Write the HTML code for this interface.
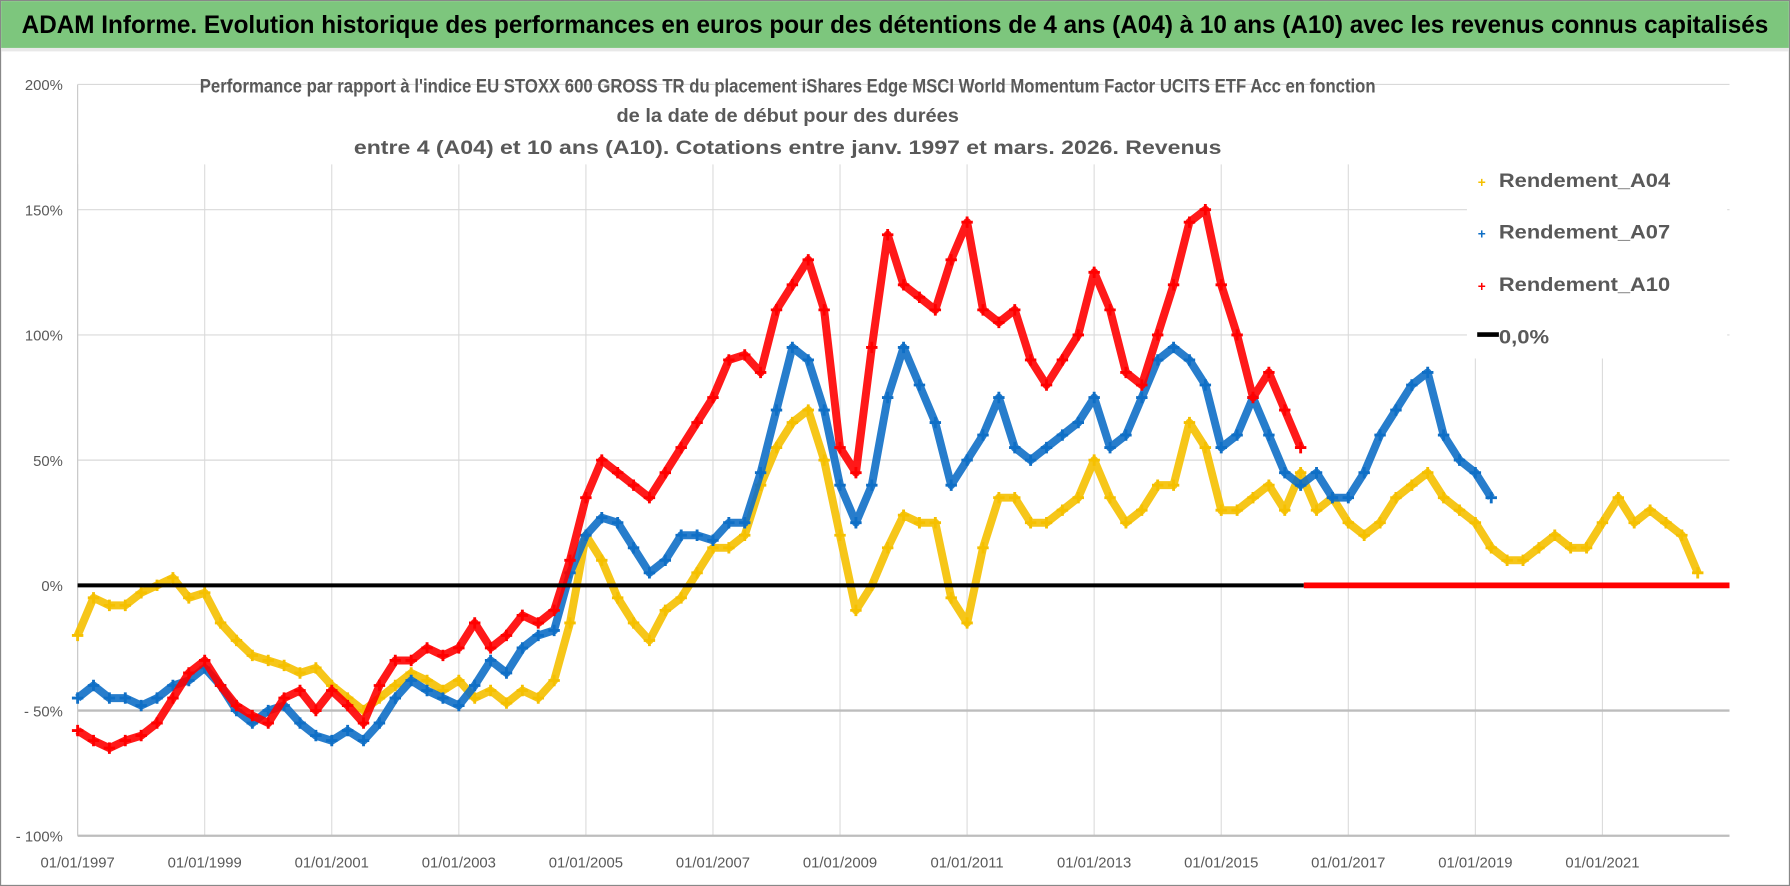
<!DOCTYPE html>
<html><head><meta charset="utf-8"><style>
html,body{margin:0;padding:0;background:#fff;}
svg{display:block;font-family:"Liberation Sans",sans-serif;}
</style></head><body>
<svg id="chart" width="1790" height="886" viewBox="0 0 1568 776" preserveAspectRatio="none" xmlns="http://www.w3.org/2000/svg">
<rect x="0.5" y="0.5" width="1567" height="775" fill="#fff" stroke="#888"/>
<rect x="1" y="1" width="1566" height="41" fill="#7dc67d"/>
<rect x="1" y="42" width="1566" height="3" fill="#e8e8e8"/>
<text x="784" y="29" text-anchor="middle" font-size="22" font-weight="bold" fill="#000" textLength="1530" lengthAdjust="spacingAndGlyphs">ADAM Informe. Evolution historique des performances en euros pour des détentions de 4 ans (A04) à 10 ans (A10) avec les revenus connus capitalisés</text>
<g id="grid"></g>
<g id="axes"></g>
<g id="series"></g>
<rect x="1285" y="138" width="228" height="176" fill="#fff"/>
<g font-size="17" font-weight="bold" fill="#595959" text-anchor="middle">
<text x="690" y="81" textLength="1030" lengthAdjust="spacingAndGlyphs">Performance par rapport à l'indice EU STOXX 600 GROSS TR  du placement iShares Edge MSCI World Momentum Factor UCITS ETF Acc en fonction</text>
<text x="690" y="107" textLength="300" lengthAdjust="spacingAndGlyphs">de la date de début pour des durées</text>
<text x="690" y="135" textLength="760" lengthAdjust="spacingAndGlyphs">entre 4 (A04) et 10 ans (A10). Cotations entre janv. 1997 et mars. 2026. Revenus</text>
</g>
<g font-size="17" font-weight="bold" fill="#595959">
<g><text x="1298" y="164" font-size="12" fill="#f5c000" text-anchor="middle">+</text><text x="1313" y="164" textLength="150" lengthAdjust="spacingAndGlyphs">Rendement_A04</text></g>
<g><text x="1298" y="209" font-size="12" fill="#0f6fc6" text-anchor="middle">+</text><text x="1313" y="209" textLength="150" lengthAdjust="spacingAndGlyphs">Rendement_A07</text></g>
<g><text x="1298" y="255" font-size="12" fill="#ff0000" text-anchor="middle">+</text><text x="1313" y="255" textLength="150" lengthAdjust="spacingAndGlyphs">Rendement_A10</text></g>
<g><line x1="1294" y1="293" x2="1313" y2="293" stroke="#000" stroke-width="4"/><text x="1313" y="301" textLength="44" lengthAdjust="spacingAndGlyphs">0,0%</text></g>
</g>
</svg>
<script>
const startYear = 1997, step = 0.25;
const yTicks = [200,150,100,50,0,-50,-100];
const yTickLabels = ["200%","150%","100%","50%","0%","- 50%","- 100%"];
const xTickYears = [1997,1999,2001,2003,2005,2007,2009,2011,2013,2015,2017,2019,2021];
const xTickLabels = ["01/01/1997","01/01/1999","01/01/2001","01/01/2003","01/01/2005","01/01/2007","01/01/2009","01/01/2011","01/01/2013","01/01/2015","01/01/2017","01/01/2019","01/01/2021"];
const a04 = [-20,-5,-8,-8,-3,0,3,-5,-3,-15,-22,-28,-30,-32,-35,-33,-40,-45,-50,-45,-40,-35,-38,-42,-38,-45,-42,-47,-42,-45,-38,-15,20,10,-5,-15,-22,-10,-5,5,15,15,20,40,55,65,70,50,20,-10,0,15,28,25,25,-5,-15,15,35,35,25,25,30,35,50,35,25,30,40,40,65,55,30,30,35,40,30,45,30,35,25,20,25,35,40,45,35,30,25,15,10,10,15,20,15,15,25,35,25,30,25,20,5];
const a07 = [-45,-40,-45,-45,-48,-45,-40,-38,-33,-40,-50,-55,-50,-48,-55,-60,-62,-58,-62,-55,-45,-38,-42,-45,-48,-40,-30,-35,-25,-20,-18,5,20,27,25,15,5,10,20,20,18,25,25,45,70,95,90,70,40,25,40,75,95,80,65,40,50,60,75,55,50,55,60,65,75,55,60,75,90,95,90,80,55,60,75,60,45,40,45,35,35,45,60,70,80,85,60,50,45,35];
const a10 = [-58,-62,-65,-62,-60,-55,-45,-35,-30,-40,-48,-52,-55,-45,-42,-50,-42,-48,-55,-40,-30,-30,-25,-28,-25,-15,-25,-20,-12,-15,-10,10,35,50,45,40,35,45,55,65,75,90,92,85,110,120,130,110,55,45,95,140,120,115,110,130,145,110,105,110,90,80,90,100,125,110,85,80,100,120,145,150,120,100,75,85,70,55];
const zeroLineEnd = 2016.3, xEnd = 2023.0;

const NS="http://www.w3.org/2000/svg";
const x0=68, x1=1515, yTop=74, yBot=732;
function xs(yr){return x0+(yr-startYear)*(x1-x0)/(xEnd-startYear);}
function ys(v){return yBot-(v+100)*(yBot-yTop)/300;}
function mk(tag,attrs,parent){const e=document.createElementNS(NS,tag);for(const k in attrs)e.setAttribute(k,attrs[k]);parent.appendChild(e);return e;}
const grid=document.getElementById('grid'), axes=document.getElementById('axes'), ser=document.getElementById('series');
xTickYears.forEach((yr,i)=>{
  const l=mk('line',{x1:xs(yr),x2:xs(yr),y1:yTop+70,y2:yBot,stroke:'#dcdcdc','stroke-width':1},grid);
  
  
  const t=mk('text',{x:xs(yr),y:yBot+28,'text-anchor':'middle','font-size':13,fill:'#595959'},axes);
  t.textContent=xTickLabels[i];
  
  
});
yTicks.forEach((v,i)=>{
  const l=mk('line',{x1:x0,x2:x1,y1:ys(v),y2:ys(v),stroke:v<0?'#bdbdbd':'#d9d9d9','stroke-width':v<0?2:1},grid);
  
  
  const t=mk('text',{x:55,y:ys(v)+5,'text-anchor':'end','font-size':13,fill:'#595959'},axes);
  t.textContent=yTickLabels[i];
  
  
});
const ax=mk('line',{x1:x0,x2:x0,y1:yTop,y2:yBot,stroke:'#c8c8c8'},axes);


function drawSeries(arr,color,name){
  const g=mk('g',{},ser);
  
  
  const pts=arr.map((v,i)=>xs(startYear+i*step).toFixed(1)+','+ys(v).toFixed(1)).join(' ');
  const pl=mk('polyline',{points:pts,fill:'none',stroke:color,'stroke-width':7,'stroke-linejoin':'round',opacity:0.9},g);
  
  
  arr.forEach((v,i)=>{
    const cx=xs(startYear+i*step), cy=ys(v);
    const p=mk('path',{d:`M${cx-5},${cy}h10M${cx},${cy-5}v10`,stroke:color,'stroke-width':2.5},g);
    
    
  });
}
drawSeries(a04,'#f5c000','series-a04');
drawSeries(a07,'#0f6fc6','series-a07');
drawSeries(a10,'#ff0000','series-a10');
const zl=mk('line',{x1:x0,x2:xs(zeroLineEnd),y1:ys(0),y2:ys(0),stroke:'#000','stroke-width':3.5},ser);


const zr=mk('line',{x1:xs(zeroLineEnd),x2:x1,y1:ys(0),y2:ys(0),stroke:'#ff0000','stroke-width':5},ser);


</script>
</body></html>
